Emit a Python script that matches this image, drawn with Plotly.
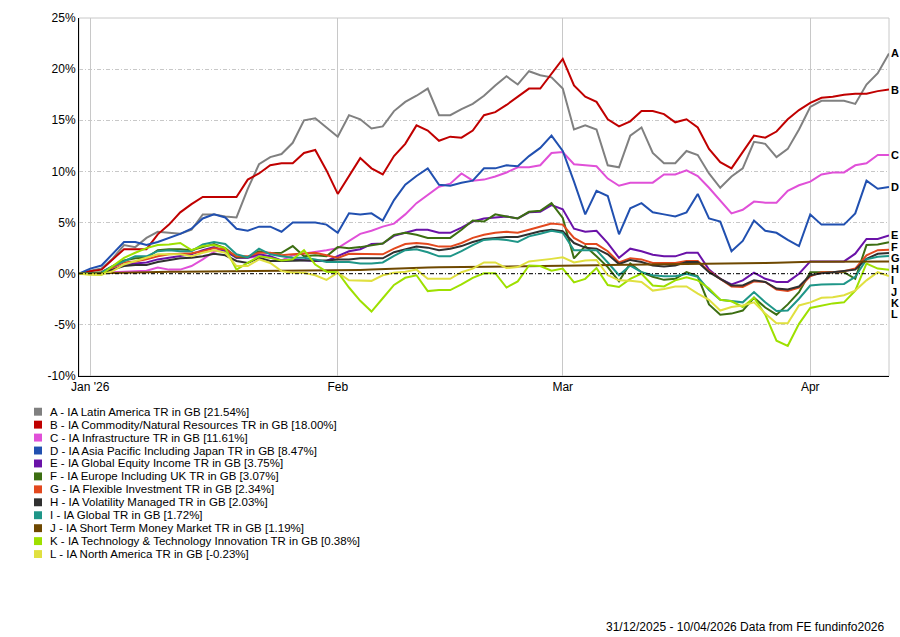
import pandas as pd
import plotly.graph_objects as go

# ---------------- data ----------------
dates = [d.strftime("%Y-%m-%d") for d in pd.bdate_range("2025-12-31", "2026-04-10")]

letters = ["A", "B", "C", "D", "E", "F", "G", "H", "I", "J", "K", "L"]
names = [
    "IA Latin America TR in GB",
    "IA Commodity/Natural Resources TR in GB",
    "IA Infrastructure TR in GB",
    "IA Asia Pacific Including Japan TR in GB",
    "IA Global Equity Income TR in GB",
    "IA Europe Including UK TR in GB",
    "IA Flexible Investment TR in GB",
    "IA Volatility Managed TR in GB",
    "IA Global TR in GB",
    "IA Short Term Money Market TR in GB",
    "IA Technology & Technology Innovation TR in GB",
    "IA North America TR in GB",
]
colors = ["#808080", "#c00000", "#e050d8", "#2150b0", "#6a12a8", "#3c6e12",
          "#e2481e", "#303030", "#1f9688", "#6e4800", "#9ee000", "#e0e040"]

series_A = [0, 0.3, 0.5, 1.5, 2.8, 2.6, 3.5, 4.1, 4.0, 3.9, 4.3, 5.8, 5.8, 5.6, 5.5, 8.3, 10.7, 11.4, 11.7, 12.8,
            15.0, 15.2, 14.3, 13.4, 15.5, 15.1, 14.2, 14.4, 15.9, 16.8, 17.4, 18.1, 15.5, 15.5, 16.1, 16.6, 17.4, 18.4,
            19.3, 18.5, 19.8, 19.4, 19.2, 18.1, 14.1, 14.5, 14.1, 10.6, 10.4, 13.5, 14.3, 11.8, 10.8, 10.8, 12.0, 11.6,
            9.8, 8.4, 9.5, 10.3, 12.9, 12.7, 11.4, 12.2, 14.1, 16.3, 16.9, 16.9, 16.9, 16.6, 18.5, 19.6, 21.54]
series_B = [0, 0.25, 0.4, 1.4, 2.4, 2.4, 2.4, 3.85, 4.8, 6.0, 6.8, 7.5, 7.5, 7.5, 7.5, 9.2, 9.8, 10.6, 10.8, 10.8,
            11.8, 12.1, 10.1, 7.8, 9.55, 11.3, 10.3, 9.7, 11.5, 12.7, 14.5, 14.0, 13.0, 13.4, 13.3, 14.0, 15.5, 15.8,
            16.5, 17.3, 18.1, 18.1, 19.6, 21.0, 18.4, 17.3, 16.8, 15.1, 14.4, 14.9, 15.9, 15.9, 15.6, 14.8, 15.1, 14.3,
            12.2, 10.9, 10.3, 11.9, 13.5, 13.3, 13.9, 15.1, 16.0, 16.7, 17.2, 17.3, 17.5, 17.6, 17.6, 17.85, 18.00]
series_C = [0, 0.05, 0.1, 0.15, 0.2, 0.25, 0.3, 0.6, 0.4, 0.4, 0.75, 1.4, 2.15, 2.4, 1.55, 1.55, 1.7, 1.55, 1.3, 1.8,
            1.95, 2.15, 2.3, 2.5, 3.2, 3.9, 4.2, 4.6, 4.9, 5.8, 6.9, 7.7, 8.5, 8.8, 9.8, 9.1, 9.2, 9.5, 9.9, 10.4,
            10.4, 10.6, 11.8, 11.9, 10.7, 10.6, 10.5, 9.3, 8.6, 8.9, 8.9, 8.9, 9.7, 9.7, 10.1, 9.55, 8.4, 7.2, 5.9,
            6.25, 7.05, 6.95, 6.95, 8.1, 8.65, 9.0, 9.7, 9.9, 9.9, 10.6, 10.8, 11.6, 11.61]
series_D = [0, 0.5, 0.8, 1.9, 3.1, 3.1, 2.8, 3.1, 3.5, 3.9, 4.4, 5.4, 5.8, 5.5, 4.4, 4.2, 4.6, 4.6, 4.1, 5.0,
            5.0, 5.0, 4.8, 4.0, 5.9, 5.8, 5.9, 5.2, 7.2, 8.7, 9.55, 10.3, 8.7, 8.6, 8.9, 9.1, 10.3, 10.3, 10.6, 10.5,
            11.5, 12.3, 13.5, 12.0, 9.0, 5.8, 8.1, 7.6, 3.85, 6.4, 6.9, 6.0, 5.8, 5.6, 6.0, 7.8, 5.4, 5.1, 2.2, 3.2,
            5.2, 4.2, 4.0, 3.3, 2.7, 5.8, 4.8, 4.8, 4.8, 5.9, 9.1, 8.3, 8.47]
series_E = [0, 0.05, 0.1, 0.4, 0.85, 1.0, 1.1, 1.4, 1.55, 1.7, 1.9, 2.3, 2.6, 2.2, 1.55, 1.55, 1.9, 1.7, 1.3, 1.4,
            1.3, 1.25, 1.25, 1.7, 2.2, 2.4, 2.9, 2.95, 3.7, 4.0, 4.3, 4.3, 4.0, 4.0, 4.5, 5.1, 5.4, 5.5, 5.6, 5.4,
            6.0, 6.05, 6.7, 6.3, 4.4, 4.1, 4.2, 3.0, 1.55, 2.45, 2.2, 1.85, 1.7, 1.7, 2.05, 2.05, 0.4, -0.5, -1.05,
            -0.65, 0.1, -0.5, -0.8, -0.8, 0.0, 1.2, 1.2, 1.2, 1.2, 1.96, 3.4, 3.4, 3.75]
series_F = [0, 0.05, 0.15, 0.75, 1.3, 1.5, 1.55, 2.3, 2.4, 2.4, 2.3, 2.6, 2.9, 2.5, 1.6, 1.6, 2.2, 2.0, 2.05, 2.7,
            1.7, 1.8, 1.7, 2.6, 2.5, 2.6, 2.8, 2.95, 3.8, 4.0, 3.8, 3.5, 3.5, 3.5, 4.3, 5.2, 5.1, 5.8, 5.6, 5.4,
            6.05, 6.15, 6.9, 5.45, 1.5, 2.7, 1.7, 0.65, -0.75, 1.0, 0.15, -0.3, -0.6, -0.5, 0.15, -0.25, -3.0, -4.0,
            -3.9, -3.6, -2.35, -3.3, -4.0, -3.0, -1.8, 0.15, 0.15, 0.15, 0.15, -0.5, 2.8, 2.85, 3.07]
series_G = [0, 0.05, 0.1, 0.6, 1.1, 1.2, 1.4, 1.7, 1.9, 1.95, 2.0, 2.2, 2.5, 2.4, 1.7, 1.7, 2.05, 2.05, 1.8, 1.9,
            1.95, 2.05, 1.8, 1.55, 1.95, 1.95, 1.95, 1.9, 2.45, 2.9, 3.0, 2.9, 2.65, 2.65, 3.0, 3.5, 3.8, 4.0, 4.1,
            4.0, 4.3, 4.6, 4.9, 4.8, 3.5, 2.9, 2.9, 2.2, 1.1, 1.5, 1.4, 1.05, 1.05, 1.05, 1.25, 1.25, 0.25, -0.5,
            -1.25, -1.3, -0.75, -0.8, -1.55, -1.7, -1.35, -0.25, 0.15, 0.15, 0.25, 0.5, 1.8, 2.3, 2.34]
series_H = [0, 0.03, 0.08, 0.4, 0.75, 0.85, 0.85, 1.15, 1.3, 1.5, 1.55, 1.7, 1.95, 1.8, 1.25, 1.05, 1.55, 1.25, 1.25,
            1.3, 1.3, 1.3, 1.3, 1.4, 1.4, 1.5, 1.5, 1.5, 2.1, 2.4, 2.65, 2.55, 2.3, 2.45, 2.7, 3.1, 3.4, 3.5, 3.6,
            3.6, 3.9, 4.15, 4.3, 4.15, 3.0, 2.55, 2.45, 1.9, 0.95, 1.35, 1.15, 0.8, 0.7, 0.8, 1.15, 1.15, 0.15, -0.5,
            -1.15, -1.15, -0.65, -0.8, -1.45, -1.55, -1.25, -0.15, 0.05, 0.15, 0.25, 0.4, 1.45, 1.95, 2.03]
series_I = [0, 0.05, 0.1, 0.75, 1.25, 1.7, 1.7, 2.2, 2.3, 2.2, 2.2, 2.85, 3.1, 2.9, 1.9, 1.6, 2.45, 1.9, 1.7, 1.55,
            1.55, 1.4, 1.15, 1.15, 1.15, 1.0, 1.0, 1.1, 1.75, 2.3, 2.4, 2.1, 1.7, 1.7, 2.2, 2.8, 3.3, 3.4, 3.3, 3.1,
            3.65, 3.9, 4.2, 4.0, 2.3, 2.3, 2.3, 1.1, -0.15, 0.8, 0.15, -0.15, -0.25, -0.25, 0.0, -0.3, -1.6, -2.55,
            -2.7, -2.8, -1.8, -2.8, -3.65, -3.6, -2.45, -1.15, -1.05, -1.05, -1.0, -0.3, 1.4, 1.65, 1.72]
series_J = [0, 0.03, 0.06, 0.1, 0.13, 0.15, 0.17, 0.19, 0.2, 0.2, 0.21, 0.21, 0.22, 0.22, 0.22, 0.23, 0.23, 0.24,
            0.24, 0.25, 0.25, 0.26, 0.3, 0.33, 0.35, 0.37, 0.4, 0.45, 0.5, 0.53, 0.56, 0.6, 0.62, 0.64, 0.66, 0.68,
            0.7, 0.72, 0.73, 0.74, 0.75, 0.76, 0.77, 0.78, 0.8, 0.82, 0.83, 0.84, 0.85, 0.86, 0.87, 0.88, 0.89, 0.9,
            0.91, 0.92, 0.93, 0.95, 0.98, 1.0, 1.02, 1.04, 1.08, 1.13, 1.17, 1.18, 1.18, 1.18, 1.18, 1.19, 1.19,
            1.19, 1.19]
series_K = [0, -0.05, -0.1, 0.75, 1.55, 2.05, 2.5, 2.8, 2.85, 3.0, 2.3, 2.7, 2.8, 2.5, 0.4, 1.05, 1.7, 1.55, 1.3,
            1.4, 2.3, 0.9, 0.2, 0.15, -1.35, -2.65, -3.7, -2.4, -1.1, -0.4, -0.15, -1.7, -1.6, -1.6, -1.05, -0.4,
            0.05, 0.05, -1.35, -0.75, 0.8, 0.75, 0.3, 0.5, -0.85, -0.5, 0.55, -1.1, -1.3, -0.5, 0.0, -1.15, -1.25,
            -0.65, -0.35, -0.65, -1.45, -2.55, -2.7, -3.25, -2.35, -4.0, -6.55, -7.05, -4.9, -3.35, -3.1, -2.9,
            -2.8, -1.65, 1.0, 0.5, 0.38]
series_L = [0, -0.1, -0.1, 0.25, 0.9, 1.25, 1.55, 1.9, 1.9, 1.9, 1.7, 2.05, 2.3, 2.05, 0.75, 0.75, 1.4, 1.05, 0.25,
            0.1, 0.1, -0.15, -0.6, 0.1, -0.65, -0.7, -0.7, -0.15, 0.1, 0.2, 0.4, -0.5, -0.5, -0.5, 0.15, 0.5, 1.1,
            1.1, 0.55, 0.65, 1.2, 1.3, 1.45, 1.6, 1.1, 1.3, 1.35, -0.15, -0.65, -0.7, -0.8, -1.65, -1.5, -1.25,
            -1.25, -1.95, -2.55, -3.6, -3.25, -3.1, -2.8, -3.9, -4.85, -4.85, -3.1, -2.8, -2.35, -2.3, -2.1, -1.65,
            -0.65, 0.15, -0.23]

all_series = [series_A, series_B, series_C, series_D, series_E, series_F,
              series_G, series_H, series_I, series_J, series_K, series_L]

x_tick_dates = ["2026-01-01", "2026-02-02", "2026-03-02", "2026-04-01"]
x_tick_text = ["Jan '26", "Feb", "Mar", "Apr"]
y_ticks = [-10, -5, 0, 5, 10, 15, 20, 25]
footer = "31/12/2025 - 10/04/2026 Data from FE fundinfo2026"

# ---------------- figure ----------------
W, H = 900, 637
L_M, R_M, T_M, B_M = 79, 11, 15, 261
PW, PH = W - L_M - R_M, H - T_M - B_M
FONT = "Arial, Liberation Sans, sans-serif"

fig = go.Figure()
for s, c in zip(all_series, colors):
    fig.add_trace(go.Scatter(x=dates, y=s, mode="lines", line=dict(color=c, width=2),
                             showlegend=False, hoverinfo="skip"))

shapes = [
    dict(type="rect", xref="paper", yref="paper", x0=0, x1=1, y0=0, y1=1,
         line=dict(color="#c8c8c8", width=1), layer="below"),
    dict(type="line", xref="paper", yref="y", x0=0, x1=1, y0=0, y1=0,
         line=dict(color="black", width=1, dash="4px,2px,1px,2px")),
]
annotations = []

# end-of-line letter labels, spread apart to avoid overlap
gap = 1.1
order = sorted(range(len(all_series)), key=lambda k: -all_series[k][-1])
prev = None
label_y = {}
for k in order:
    yv = all_series[k][-1]
    if prev is not None:
        yv = min(yv, prev - gap)
    label_y[k] = yv
    prev = yv
for k in range(len(all_series)):
    annotations.append(dict(x=dates[-1], y=label_y[k], xref="x", yref="y", text="<b>%s</b>" % letters[k],
                            showarrow=False, xanchor="left", yanchor="middle", xshift=2,
                            borderpad=0, borderwidth=0,
                            font=dict(family=FONT, size=11, color="black")))

# legend block below the chart
for k in range(len(all_series)):
    ypx = 412 + 13.05 * k
    yp = (T_M + PH - ypx) / PH
    shapes.append(dict(type="rect", xref="paper", yref="paper",
                       x0=(34 - L_M) / PW, x1=(42 - L_M) / PW,
                       y0=yp - 4 / PH, y1=yp + 4 / PH,
                       fillcolor=colors[k], line=dict(width=0)))
    annotations.append(dict(xref="paper", yref="paper", x=(50 - L_M) / PW, y=yp,
                            text="%s - %s [%.2f%%]" % (letters[k], names[k], all_series[k][-1]),
                            showarrow=False, xanchor="left", yanchor="middle",
                            borderpad=0, borderwidth=0,
                            font=dict(family=FONT, size=11.5, color="black")))

annotations.append(dict(xref="paper", yref="paper", x=(887 - L_M) / PW, y=(T_M + PH - 629) / PH,
                        text=footer, showarrow=False, xanchor="right", yanchor="middle",
                        font=dict(family=FONT, size=12, color="black")))

fig.update_layout(
    width=W, height=H,
    margin=dict(l=L_M, r=R_M, t=T_M, b=B_M, pad=0),
    paper_bgcolor="white", plot_bgcolor="white",
    font=dict(family=FONT, size=12, color="black"),
    shapes=shapes, annotations=annotations,
    xaxis=dict(type="category", range=[0, len(dates) - 1], tickmode="array",
               tickvals=x_tick_dates, ticktext=x_tick_text,
               showgrid=True, gridcolor="#c8c8c8", gridwidth=1,
               showline=True, linecolor="black", linewidth=1, ticks="",
               tickfont=dict(family=FONT, size=12, color="black"), zeroline=False),
    yaxis=dict(range=[-10, 25], tickmode="array", tickvals=y_ticks,
               ticktext=["%d%%" % v for v in y_ticks],
               showgrid=True, gridcolor="#c8c8c8", gridwidth=1, griddash="4px,2px,1px,2px",
               showline=True, linecolor="black", linewidth=1, ticks="", zeroline=False,
               tickfont=dict(family=FONT, size=12, color="black")),
)

fig.write_html("out.html", config={"displayModeBar": False},
               post_script="document.body.style.margin='0px';document.body.style.padding='0px';")
